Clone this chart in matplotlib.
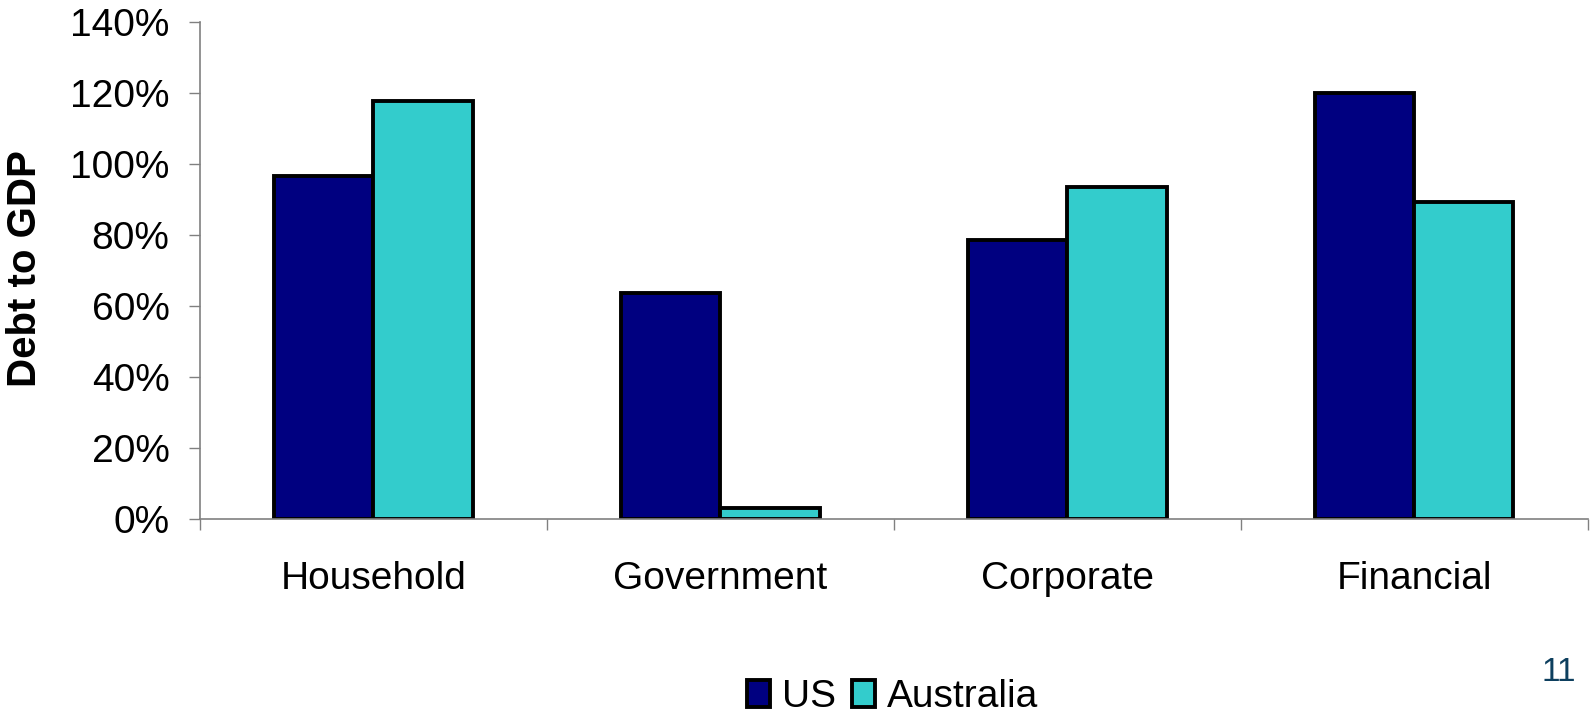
import matplotlib.pyplot as plt
import numpy as np

categories = ['Household', 'Government', 'Corporate', 'Financial']
us = [96.5, 63.8, 78.7, 120.0]
australia = [117.8, 3.2, 93.6, 89.4]
series_names = ['US', 'Australia']
yticks = [0, 20, 40, 60, 80, 100, 120, 140]

plt.rcParams['font.family'] = ['Liberation Sans', 'DejaVu Sans']

fig = plt.figure(figsize=(15.91, 7.15), dpi=100)
ax = fig.add_axes([0.1257, 0.2741, 0.8723, 0.6951])

x = np.arange(len(categories))
w = 1 / 3.5
ax.bar(x - w / 2, us, w, color='#000080', edgecolor='black', linewidth=2.8, label=series_names[0])
ax.bar(x + w / 2, australia, w, color='#33CCCC', edgecolor='black', linewidth=2.8, label=series_names[1])

ax.set_xlim(-0.5, len(categories) - 0.5)
ax.set_ylim(0, 140)
ax.set_yticks(yticks)
ax.set_yticklabels(['{}%'.format(v) for v in yticks], fontsize=28)
ax.set_xticks(x)
ax.set_xticklabels(categories, fontsize=28)
ax.tick_params(axis='x', which='major', length=0, pad=30)
ax.set_xticks(np.arange(len(categories) + 1) - 0.5, minor=True)
ax.tick_params(axis='x', which='minor', length=8, color='#808080', width=1)
ax.tick_params(axis='y', length=8, color='#808080', width=1, pad=14)

for s in ['top', 'right']:
    ax.spines[s].set_visible(False)
for s in ['left', 'bottom']:
    ax.spines[s].set_color('#808080')
    ax.spines[s].set_linewidth(1.2)

fig.text(0.016, 0.624, 'Debt to GDP', rotation=90, fontsize=29, fontweight='bold',
         ha='center', va='center')

fig.legend(loc='center', bbox_to_anchor=(0.561, 0.025), ncol=2, frameon=False,
           fontsize=28, handlelength=0.6, handleheight=0.7, handletextpad=0.3,
           columnspacing=0.4)

fig.text(0.980, 0.06, '11', fontsize=24, color='#0d3f5e', ha='center', va='center')

fig.savefig('out.png', dpi=100)
